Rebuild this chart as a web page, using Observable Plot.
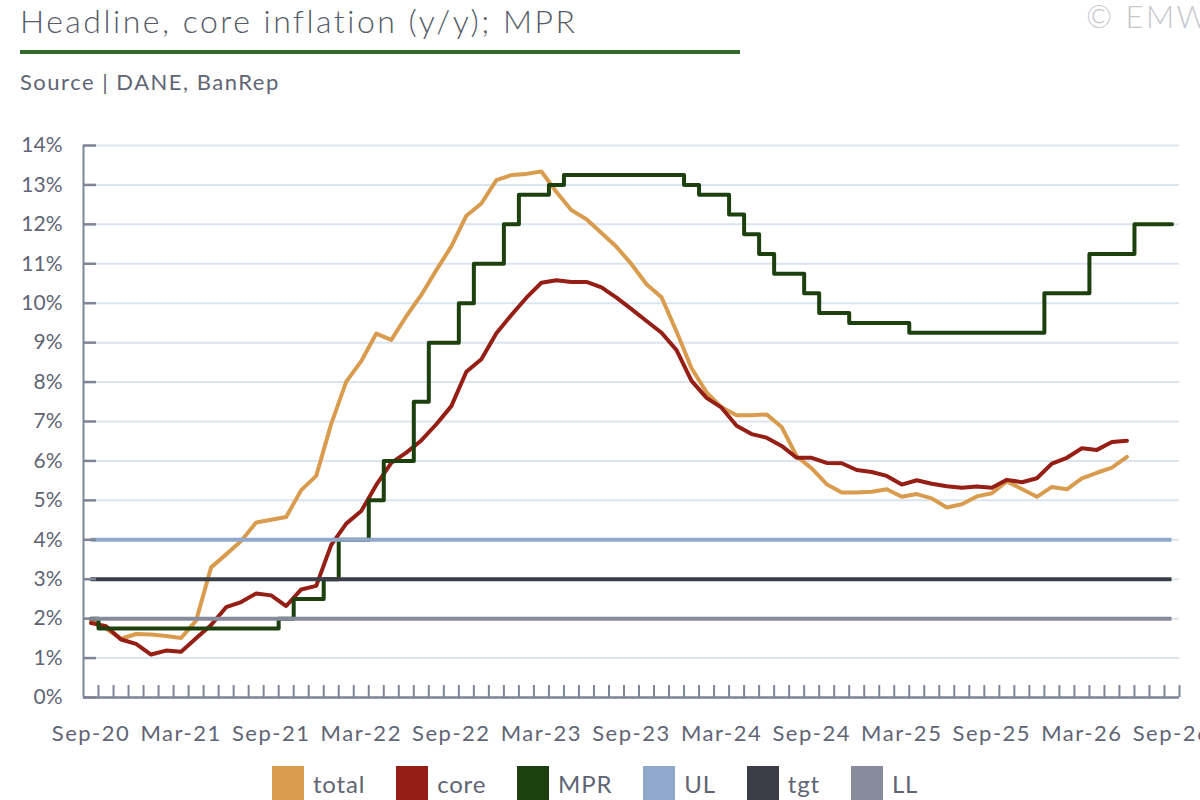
<!DOCTYPE html>
<html>
<head>
<meta charset="utf-8">
<script src="https://cdn.jsdelivr.net/npm/d3@7"></script>
<script src="https://cdn.jsdelivr.net/npm/@observablehq/plot@0.6"></script>
<style>
  html, body { margin: 0; padding: 0; background: #fff; }
  #wrap { position: relative; width: 1200px; height: 800px; overflow: hidden; font-family: Lato, "Open Sans", sans-serif; }
  .t { position: absolute; white-space: nowrap; line-height: 1; }
  #title { left: 20px; top: 5px; font-size: 32px; font-weight: 300; letter-spacing: 2.5px; color: #555b69; }
  #rule { position: absolute; left: 20px; top: 50px; width: 720px; height: 4px; background: #336b2d; }
  #copy { left: 1086px; top: 1px; font-size: 31px; font-weight: 300; letter-spacing: 2.5px; color: #c4c7cd; }
  #source { left: 20px; top: 71px; font-size: 22px; letter-spacing: 1.5px; color: #5f6575; }
  #chart { position: absolute; left: 0; top: 120px; }
  #legend { position: absolute; left: 272px; top: 766px; display: flex; align-items: flex-start; gap: 31px; }
  .item { display: flex; align-items: flex-start; gap: 9px; }
  .sw { width: 32px; height: 34px; }
  .lab { font-size: 24px; letter-spacing: 0.8px; color: #5f6575; line-height: 1; margin-top: 6px; }
</style>
</head>
<body>
<div id="wrap">
  <div id="title" class="t">Headline, core inflation (y/y); MPR</div>
  <div id="rule"></div>
  <div id="copy" class="t">© EMW</div>
  <div id="source" class="t">Source | DANE, BanRep</div>
  <div id="chart"></div>
  <div id="legend"></div>
</div>
<script>
// Monthly categories (Sep-20 .. Sep-26)
const months = [
  "Sep-20","Oct-20","Nov-20","Dec-20",
  "Jan-21","Feb-21","Mar-21","Apr-21","May-21","Jun-21","Jul-21","Aug-21","Sep-21","Oct-21","Nov-21","Dec-21",
  "Jan-22","Feb-22","Mar-22","Apr-22","May-22","Jun-22","Jul-22","Aug-22","Sep-22","Oct-22","Nov-22","Dec-22",
  "Jan-23","Feb-23","Mar-23","Apr-23","May-23","Jun-23","Jul-23","Aug-23","Sep-23","Oct-23","Nov-23","Dec-23",
  "Jan-24","Feb-24","Mar-24","Apr-24","May-24","Jun-24","Jul-24","Aug-24","Sep-24","Oct-24","Nov-24","Dec-24",
  "Jan-25","Feb-25","Mar-25","Apr-25","May-25","Jun-25","Jul-25","Aug-25","Sep-25","Oct-25","Nov-25","Dec-25",
  "Jan-26","Feb-26","Mar-26","Apr-26","May-26","Jun-26","Jul-26","Aug-26","Sep-26"
];

// Headline inflation, y/y % (Sep-20 .. Jun-26)
const totalInfl = [
  1.97, 1.75, 1.49, 1.61,
  1.60, 1.56, 1.51, 1.95, 3.30, 3.63, 3.97, 4.44, 4.51, 4.58, 5.26, 5.62,
  6.94, 8.01, 8.53, 9.23, 9.07, 9.67, 10.21, 10.84, 11.44, 12.22, 12.53, 13.12,
  13.25, 13.28, 13.34, 12.82, 12.36, 12.13, 11.78, 11.43, 10.99, 10.48, 10.15, 9.28,
  8.35, 7.74, 7.36, 7.16, 7.16, 7.18, 6.86, 6.12, 5.81, 5.41, 5.20, 5.20,
  5.22, 5.28, 5.09, 5.16, 5.05, 4.82, 4.90, 5.10, 5.18, 5.48, 5.29, 5.09,
  5.34, 5.28, 5.56, 5.70, 5.83, 6.10
];

// Core inflation, y/y % (Sep-20 .. Jun-26)
const coreInfl = [
  1.89, 1.81, 1.47, 1.36,
  1.09, 1.19, 1.16, 1.50, 1.84, 2.29, 2.42, 2.64, 2.59, 2.32, 2.74, 2.83,
  3.87, 4.41, 4.73, 5.39, 5.95, 6.21, 6.52, 6.93, 7.39, 8.26, 8.58, 9.24,
  9.70, 10.14, 10.52, 10.58, 10.54, 10.54, 10.40, 10.14, 9.85, 9.55, 9.25, 8.81,
  8.03, 7.60, 7.35, 6.89, 6.68, 6.59, 6.38, 6.08, 6.08, 5.95, 5.94, 5.77,
  5.72, 5.62, 5.40, 5.51, 5.42, 5.36, 5.32, 5.35, 5.32, 5.52, 5.46, 5.56,
  5.93, 6.08, 6.32, 6.28, 6.48, 6.51
];

// Monetary policy rate, % (Sep-20 .. Sep-26)
const mprRate = [
  2.00, 1.75, 1.75, 1.75,
  1.75, 1.75, 1.75, 1.75, 1.75, 1.75, 1.75, 1.75, 1.75, 2.00, 2.50, 2.50,
  3.00, 4.00, 4.00, 5.00, 6.00, 6.00, 7.50, 9.00, 9.00, 10.00, 11.00, 11.00,
  12.00, 12.75, 12.75, 13.00, 13.25, 13.25, 13.25, 13.25, 13.25, 13.25, 13.25, 13.25,
  13.00, 12.75, 12.75, 12.25, 11.75, 11.25, 10.75, 10.75, 10.25, 9.75, 9.75, 9.50,
  9.50, 9.50, 9.50, 9.25, 9.25, 9.25, 9.25, 9.25, 9.25, 9.25, 9.25, 9.25,
  10.25, 10.25, 10.25, 11.25, 11.25, 11.25, 12.00, 12.00, 12.00
];

// Target band
const upperLimit = 4;
const target = 3;
const lowerLimit = 2;

// Axis ticks
const yTicks = [0,1,2,3,4,5,6,7,8,9,10,11,12,13,14];
const xTickLabels = ["Sep-20","Mar-21","Sep-21","Mar-22","Sep-22","Mar-23","Sep-23","Mar-24","Sep-24","Mar-25","Sep-25","Mar-26","Sep-26"];

const colors = { total: "#d99c4f", core: "#951e15", MPR: "#1c400e", UL: "#8fa8cc", tgt: "#3b3e47", LL: "#878b9c" };

const toRows = arr => arr.map((v, i) => ({ i, v }));
const totalRows = toRows(totalInfl);
const coreRows = toRows(coreInfl);
const mprRows = toRows(mprRate);
const lastIdx = months.length - 1;
const boundaryTicks = months.map((_, i) => i + 0.5);
const labelTicks = xTickLabels.map(l => months.indexOf(l));

const axisColor = "#7d8597";
const textColor = "#5f6575";

const chart = Plot.plot({
  width: 1200,
  height: 640,
  marginLeft: 83,
  marginRight: 21,
  marginTop: 25,
  marginBottom: 63,
  style: { fontFamily: "Lato, 'Open Sans', sans-serif", background: "transparent", overflow: "visible" },
  x: { type: "linear", domain: [-0.5, lastIdx + 0.5] },
  y: { domain: [0, 14] },
  marks: [
    Plot.gridY(yTicks, { stroke: "#dbe5f0", strokeOpacity: 1, strokeWidth: 2 }),
    Plot.lineY(totalRows, { x: "i", y: "v", stroke: colors.total, strokeWidth: 4, strokeLinejoin: "round" }),
    Plot.lineY(coreRows, { x: "i", y: "v", stroke: colors.core, strokeWidth: 4, strokeLinejoin: "round" }),
    Plot.lineY(mprRows, { x: "i", y: "v", curve: "step", stroke: colors.MPR, strokeWidth: 4 }),
    Plot.ruleY([upperLimit], { x1: 0, x2: lastIdx, stroke: colors.UL, strokeWidth: 4 }),
    Plot.ruleY([target], { x1: 0, x2: lastIdx, stroke: colors.tgt, strokeWidth: 4 }),
    Plot.ruleY([lowerLimit], { x1: 0, x2: lastIdx, stroke: colors.LL, strokeWidth: 4 }),
    Plot.ruleY([0], { stroke: axisColor, strokeWidth: 2.5 }),
    Plot.ruleX([-0.5], { stroke: axisColor, strokeWidth: 2 }),
    Plot.axisY(yTicks, { tickSize: -13, tickPadding: 34, stroke: axisColor, strokeWidth: 2.5, tickFormat: d => d + "%", fontSize: 21, fill: textColor, label: null }),
    Plot.axisX(boundaryTicks, { tickSize: -12, stroke: axisColor, strokeWidth: 2, tickFormat: () => "", label: null }),
    Plot.axisX(labelTicks, { tickSize: 0, tickPadding: 28, tickFormat: i => months[i], fontSize: 22, fill: textColor, label: null })
  ]
});
document.getElementById("chart").appendChild(chart);
// widen x labels slightly to match the reference's letter widths
chart.querySelectorAll("[aria-label='x-axis tick label'] text").forEach(t => t.setAttribute("letter-spacing", "1.5"));

// Legend
const legendItems = ["total", "core", "MPR", "UL", "tgt", "LL"];
const legend = document.getElementById("legend");
for (const name of legendItems) {
  const item = document.createElement("div");
  item.className = "item";
  const sw = document.createElement("div");
  sw.className = "sw";
  sw.style.background = colors[name];
  const lab = document.createElement("div");
  lab.className = "lab";
  lab.textContent = name;
  item.appendChild(sw);
  item.appendChild(lab);
  legend.appendChild(item);
}
</script>
</body>
</html>
